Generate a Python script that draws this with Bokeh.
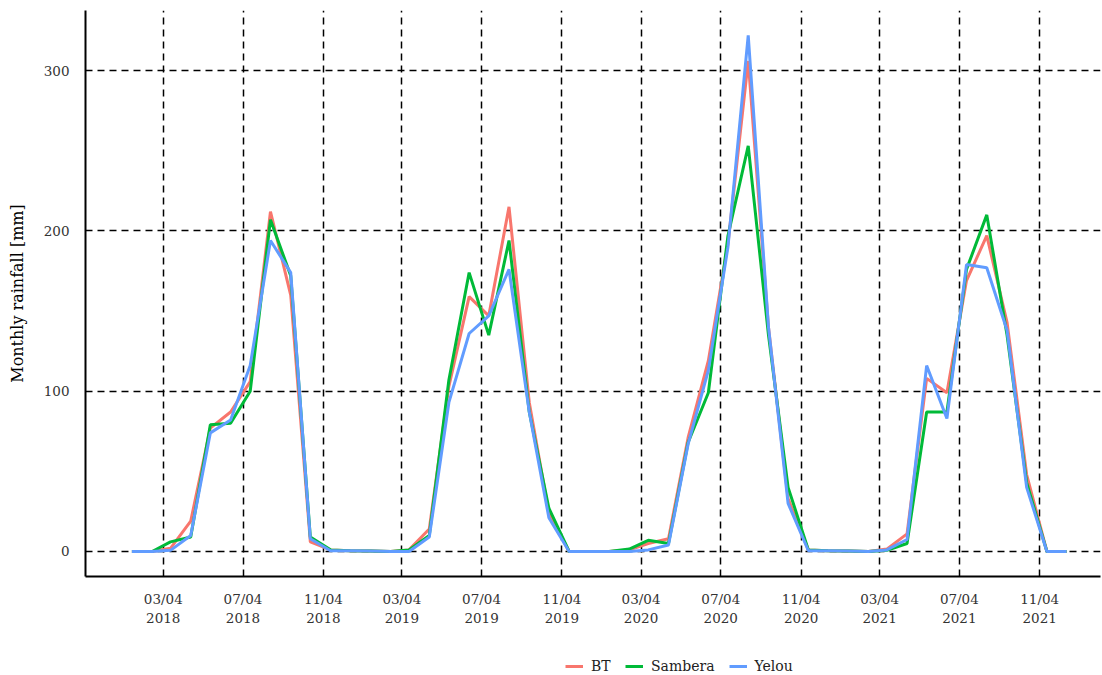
import pandas as pd
from bokeh.plotting import figure
from bokeh.layouts import column
from bokeh.models import (Range1d, FixedTicker, DatetimeTickFormatter, Legend,
                          LegendItem, ColumnDataSource)
from bokeh.embed import file_html
from bokeh.resources import INLINE

# ---- data ----
months = pd.date_range("2018-01-01", periods=48, freq="MS") + pd.Timedelta(days=14)

bt = [0, 0, 2, 19, 77, 87, 106, 212, 160, 6, 1, 0.5,
      0.3, 0, 1, 14, 103, 159, 147, 215, 93, 24, 0, 0,
      0, 1, 5, 8, 71, 119, 192, 306, 140, 33, 1, 0.5,
      0.3, 0, 1.5, 11, 108, 99, 169, 197, 143, 48, 0, 0]
sambera = [0, 0, 6, 9, 79, 80, 100, 207, 172, 9, 1, 0.5,
           0.3, 0, 1, 10, 107, 174, 135, 194, 87, 27, 0, 0,
           0, 1.5, 7, 5, 68, 99, 197, 253, 135, 40, 1, 0.5,
           0.3, 0, 0.8, 5, 87, 87, 176, 210, 135, 43, 0, 0]
yelou = [0, 0, 0.7, 10, 74, 82, 116, 194, 174, 8, 0.5, 0.5,
         0.3, 0, 0, 9, 93, 136, 147, 176, 87, 21, 0, 0,
         0, 0, 1, 4, 67, 113, 190, 322, 140, 30, 0.5, 0.5,
         0.3, 0, 1, 7.5, 116, 83, 179, 177, 138, 40, 0, 0]

series_keys = ["bt", "sambera", "yelou"]
series_names = ["BT", "Sambera", "Yelou"]
series_colors = ["#F8766D", "#00BA38", "#619CFF"]

tick_dates = pd.to_datetime([
    "2018-03-04", "2018-07-04", "2018-11-04",
    "2019-03-04", "2019-07-04", "2019-11-04",
    "2020-03-04", "2020-07-04", "2020-11-04",
    "2021-03-04", "2021-07-04", "2021-11-04"])
y_ticks = [0, 100, 200, 300]

FONT = "DejaVu Serif"

x_start = pd.Timestamp("2017-11-05")
x_end = pd.Timestamp("2022-02-05")

src = ColumnDataSource(dict(x=months, bt=bt, sambera=sambera, yelou=yelou))

# ---- main chart ----
p = figure(frame_width=1015, frame_height=566, x_axis_type="datetime",
           output_backend="svg", toolbar_location=None,
           x_range=Range1d(x_start, x_end), y_range=Range1d(-15.6, 337.5),
           min_border_left=85, min_border_right=2, min_border_top=10,
           min_border_bottom=66)
p.outline_line_color = None
p.background_fill_color = "white"

for key, col in zip(series_keys, series_colors):
    p.line("x", key, source=src, line_color=col, line_width=3)

p.xaxis.ticker = FixedTicker(ticks=[d.value / 1e6 for d in tick_dates])
fmt = "%m/%d\n%Y"
p.xaxis.formatter = DatetimeTickFormatter(
    microseconds=fmt, milliseconds=fmt, seconds=fmt, minsec=fmt, minutes=fmt,
    hourmin=fmt, hours=fmt, days=fmt, months=fmt, years=fmt)
p.yaxis.ticker = FixedTicker(ticks=y_ticks)

for ax in (p.xaxis[0], p.yaxis[0]):
    ax.axis_line_color = "black"
    ax.axis_line_width = 2
    ax.major_tick_line_color = None
    ax.minor_tick_line_color = None
    ax.major_label_text_font = FONT
    ax.major_label_text_font_size = "13.5px"
    ax.major_label_text_color = "#333333"
p.xaxis.major_label_standoff = 8
p.yaxis.major_label_standoff = 10
p.yaxis.axis_label = "Monthly rainfall [mm]"
p.yaxis.axis_label_text_font = FONT
p.yaxis.axis_label_text_font_size = "16px"
p.yaxis.axis_label_text_font_style = "normal"
p.yaxis.axis_label_text_color = "black"
p.yaxis.axis_label_standoff = 14

for g in (p.xgrid[0], p.ygrid[0]):
    g.grid_line_color = "black"
    g.grid_line_width = 1.5
    g.grid_line_dash = "7 5"

# ---- legend strip (separate small figure, lines kept out of view) ----
leg = figure(width=1102, height=40, x_axis_type="datetime",
             output_backend="svg", toolbar_location=None,
             x_range=Range1d(x_start, x_end), y_range=Range1d(1000, 1001),
             x_axis_location=None, y_axis_location=None, min_border=0)
leg.outline_line_color = None
leg.xgrid.visible = False
leg.ygrid.visible = False
leg_renderers = [leg.line("x", key, source=src, line_color=col, line_width=3)
                 for key, col in zip(series_keys, series_colors)]

legend = Legend(items=[LegendItem(label=n, renderers=[r])
                       for n, r in zip(series_names, leg_renderers)],
                orientation="horizontal", location=(480, 6),
                border_line_color=None, background_fill_alpha=0,
                label_text_font=FONT, label_text_font_size="14px",
                label_text_color="#222222",
                glyph_width=18, label_standoff=8, spacing=14,
                padding=4, margin=0)
leg.add_layout(legend)

layout = column(p, leg, spacing=0)
open("out.html", "w").write(file_html(layout, INLINE))
